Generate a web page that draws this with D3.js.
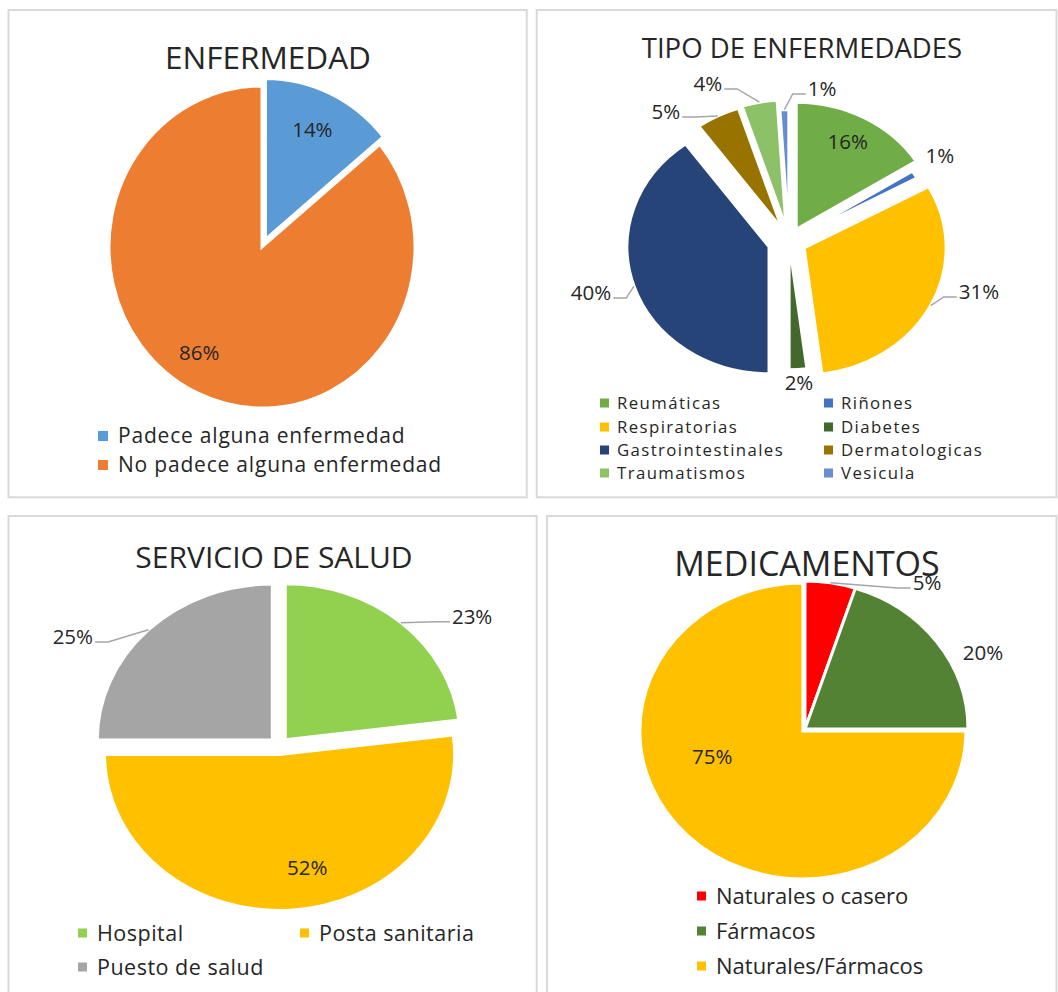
<!DOCTYPE html>
<html>
<head>
<meta charset="utf-8">
<script src="https://cdn.jsdelivr.net/npm/d3@7"></script>
<style>
  body { margin: 0; background: #fff; }
  svg { display: block; }
  text { font-family: "Open Sans", sans-serif; fill: #262626; }
</style>
</head>
<body>
<svg id="chart" width="1058" height="992"></svg>
<script>
// ---- data ----
const enfermedadCats = ["Padece alguna enfermedad", "No padece alguna enfermedad"];
const enfermedadVals = [14, 86];

const tipoCats = ["Reumáticas", "Riñones", "Respiratorias", "Diabetes",
  "Gastrointestinales", "Dermatologicas", "Traumatismos", "Vesicula"];
const tipoVals = [16, 1, 31, 2, 40, 5, 4, 1];

const servicioCats = ["Hospital", "Posta sanitaria", "Puesto de salud"];
const servicioVals = [23, 52, 25];

const medCats = ["Naturales o casero", "Fármacos", "Naturales/Fármacos"];
const medVals = [5, 20, 75];

// ---- layout / style ----
const panels = [
  {
    box: [8.5, 10, 526.7, 497.3],
    title: "ENFERMEDAD", titleX: 268, titleY: 69, titleSize: 31.5,
    cats: enfermedadCats, vals: enfermedadVals,
    colors: ["#5b9bd5", "#ed7d31"],
    cx: 262, cy: 247, rx: 153, ry: 161,
    explode: [8, 0],
    labels: [{ da: -0.9, k: 0.8 }, { da: 6.7, k: 0.776 }],
    legend: { cols: [98], textDx: 20, rows: [436, 465], size: 21, spacing: 0.8, mark: 10 }
  },
  {
    box: [536.7, 10, 1056.5, 497.3],
    title: "TIPO DE ENFERMEDADES", titleX: 802, titleY: 58, titleSize: 27.5,
    cats: tipoCats, vals: tipoVals,
    colors: ["#70ad47", "#4472c4", "#ffc000", "#43682b", "#264478", "#997300", "#8cc168", "#698ed0"],
    cx: 789, cy: 241, rx: 142, ry: 127,
    explode: [15, 4, 17, 2, 21, 15, 16, 5],
    labels: [
      { da: -0.8, k: 0.88 },
      { da: -1.6, k: 1.256 },
      { da: -10.3, k: 1.397, leader: true },
      { da: 0, k: 1.12 },
      { da: 1.6, k: 1.453, leader: true },
      { da: -13.5, k: 1.335, leader: true },
      { da: -14, k: 1.362, leader: true },
      { da: 12.8, k: 1.22, leader: true }
    ],
    legend: { cols: [600, 824], textDx: 17, rows: [403, 427, 450, 473], size: 16.8, spacing: 1.4, mark: 9 }
  },
  {
    box: [8.5, 516, 536.7, 996],
    title: "SERVICIO DE SALUD", titleX: 274, titleY: 568, titleSize: 30,
    cats: servicioCats, vals: servicioVals,
    colors: ["#92d050", "#ffc000", "#a5a5a5"],
    cx: 279, cy: 746, rx: 175, ry: 156,
    explode: [9.5, 9.5, 9.5],
    labels: [
      { da: 11.7, k: 1.38, leader: true },
      { da: -8, k: 0.8 },
      { da: -14.3, k: 1.37, leader: true }
    ],
    legend: { cols: [78, 300], textDx: 19, rows: [933, 967], size: 21.5, spacing: 0.5, mark: 9 }
  },
  {
    box: [547, 516, 1056.5, 996],
    title: "MEDICAMENTOS", titleX: 807, titleY: 576, titleSize: 34,
    cats: medCats, vals: medVals,
    colors: ["#ff0000", "#548235", "#ffc000"],
    cx: 805, cy: 729, rx: 163, ry: 148,
    explode: [0, 0, 3],
    labels: [
      { da: 28.2, k: 1.238, leader: true },
      { da: 10.8, k: 1.207 },
      { da: 26.7, k: 0.6 }
    ],
    legend: { cols: [697], textDx: 19, rows: [896, 931, 966], size: 22, spacing: 0, mark: 9 }
  }
];

const svg = d3.select("#chart");
const pie = d3.pie().sort(null).value(d => d);
const rad = Math.PI / 180;

panels.forEach(p => {
  const [x0, y0, x1, y1] = p.box;
  svg.append("rect")
    .attr("x", x0).attr("y", y0)
    .attr("width", x1 - x0).attr("height", y1 - y0)
    .attr("fill", "#fff")
    .attr("stroke", "#d9d9d9")
    .attr("stroke-width", 2);

  svg.append("text")
    .attr("x", p.titleX).attr("y", p.titleY)
    .attr("text-anchor", "middle")
    .attr("font-size", p.titleSize)
    .attr("fill", "#1a1a1a")
    .text(p.title);

  const sy = p.ry / p.rx;
  const arcs = pie(p.vals);
  const arc = d3.arc().innerRadius(0).outerRadius(p.rx);
  const mid = d => (d.startAngle + d.endAngle) / 2;

  const g = svg.append("g")
    .attr("transform", `translate(${p.cx},${p.cy}) scale(1,${sy})`);

  g.selectAll("path")
    .data(arcs)
    .join("path")
    .attr("d", arc)
    .attr("transform", (d, i) => {
      const m = mid(d), e = p.explode[i];
      return `translate(${e * Math.sin(m)},${-e * Math.cos(m)})`;
    })
    .attr("fill", (d, i) => p.colors[i])
    .attr("stroke", "#fff")
    .attr("stroke-width", 3)
    .attr("vector-effect", "non-scaling-stroke");

  // point on the ellipse, angle clockwise from 12 o'clock
  const pt = (a, r, e, m) => [
    p.cx + e * Math.sin(m) + r * Math.sin(a),
    p.cy + sy * (-e * Math.cos(m) - r * Math.cos(a))
  ];

  // data labels
  arcs.forEach((d, i) => {
    const L = p.labels[i];
    const m = mid(d);
    const a = m + L.da * rad;
    const [lx, ly] = pt(a, p.rx * L.k, 0, 0);
    const t = svg.append("text")
      .attr("x", lx).attr("y", ly)
      .attr("dy", "0.35em")
      .attr("text-anchor", "middle")
      .attr("font-size", 20.5)
      .text(Math.round(d.data) + "%");
    if (L.leader) {
      const w = t.node().getComputedTextLength();
      const s = pt(m, p.rx, p.explode[i], m);
      const right = lx > s[0];
      const end = [right ? lx - w / 2 - 2 : lx + w / 2 + 2, ly + 5];
      const elbow = [right ? end[0] - 13 : end[0] + 13, end[1]];
      svg.append("polyline")
        .attr("points", [s, elbow, end].map(q => q.join(",")).join(" "))
        .attr("fill", "none")
        .attr("stroke", "#a6a6a6")
        .attr("stroke-width", 1.5);
    }
  });

  // legend
  const lg = p.legend;
  const nc = lg.cols.length;
  p.cats.forEach((c, i) => {
    const x = lg.cols[i % nc];
    const y = lg.rows[Math.floor(i / nc)];
    svg.append("rect")
      .attr("x", x).attr("y", y - lg.mark / 2)
      .attr("width", lg.mark).attr("height", lg.mark)
      .attr("fill", p.colors[i]);
    svg.append("text")
      .attr("x", x + lg.textDx).attr("y", y)
      .attr("dy", "0.35em")
      .attr("font-size", lg.size)
      .attr("letter-spacing", lg.spacing)
      .attr("fill", "#333")
      .text(c);
  });
});
</script>
</body>
</html>
